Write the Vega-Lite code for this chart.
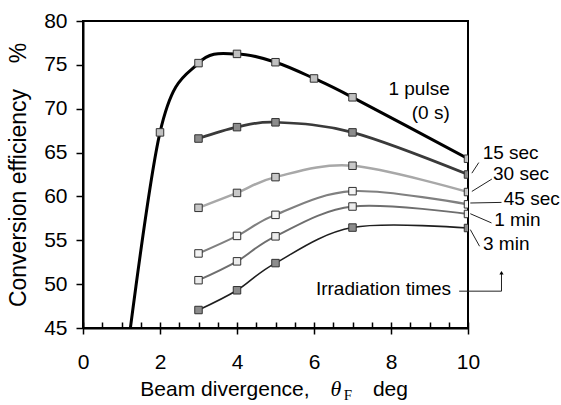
{
  "$schema": "https://vega.github.io/schema/vega-lite/v6.json",
  "width": 385,
  "height": 307,
  "autosize": {"type": "none"},
  "padding": {"left": 83, "top": 21, "right": 93, "bottom": 77},
  "background": "white",
  "config": {
    "view": {"stroke": "black", "strokeWidth": 2},
    "font": "Liberation Sans",
    "axis": {"domainColor": "black", "domainWidth": 2, "tickColor": "black", "tickWidth": 1.5, "labelColor": "black", "labelFont": "Liberation Sans", "labelFontSize": 21, "titleFont": "Liberation Sans", "titleFontWeight": "normal", "titleColor": "black", "labelOverlap": false, "labelFlush": false, "grid": false}
  },
  "resolve": {"axis": {"x": "independent"}},
  "datasets": {
    "series": [
      {"s": "1 pulse", "x": 1, "y": 37},
      {"s": "1 pulse", "x": 2, "y": 67.3},
      {"s": "1 pulse", "x": 3, "y": 75.2},
      {"s": "1 pulse", "x": 4, "y": 76.25},
      {"s": "1 pulse", "x": 5, "y": 75.3},
      {"s": "1 pulse", "x": 6, "y": 73.45},
      {"s": "1 pulse", "x": 7, "y": 71.3},
      {"s": "1 pulse", "x": 10, "y": 64.3},
      {"s": "15 sec", "x": 3, "y": 66.6},
      {"s": "15 sec", "x": 4, "y": 67.9},
      {"s": "15 sec", "x": 5, "y": 68.45},
      {"s": "15 sec", "x": 7, "y": 67.3},
      {"s": "15 sec", "x": 10, "y": 62.5},
      {"s": "30 sec", "x": 3, "y": 58.7},
      {"s": "30 sec", "x": 4, "y": 60.4},
      {"s": "30 sec", "x": 5, "y": 62.2},
      {"s": "30 sec", "x": 7, "y": 63.5},
      {"s": "30 sec", "x": 10, "y": 60.5},
      {"s": "45 sec", "x": 3, "y": 53.5},
      {"s": "45 sec", "x": 4, "y": 55.5},
      {"s": "45 sec", "x": 5, "y": 57.9},
      {"s": "45 sec", "x": 7, "y": 60.6},
      {"s": "45 sec", "x": 10, "y": 59.1},
      {"s": "1 min", "x": 3, "y": 50.45},
      {"s": "1 min", "x": 4, "y": 52.6},
      {"s": "1 min", "x": 5, "y": 55.45},
      {"s": "1 min", "x": 7, "y": 58.85},
      {"s": "1 min", "x": 10, "y": 58.0},
      {"s": "3 min", "x": 3, "y": 47.05},
      {"s": "3 min", "x": 4, "y": 49.3},
      {"s": "3 min", "x": 5, "y": 52.4},
      {"s": "3 min", "x": 7, "y": 56.45},
      {"s": "3 min", "x": 10, "y": 56.4}
    ],
    "labelsL": [
      {"t": "15 sec", "x": 10.38, "y": 65.0},
      {"t": "30 sec", "x": 10.65, "y": 62.58},
      {"t": "45 sec", "x": 10.93, "y": 59.7},
      {"t": "1 min", "x": 10.68, "y": 57.35},
      {"t": "3 min", "x": 10.39, "y": 54.6},
      {"t": "Irradiation times", "x": 6.05, "y": 49.5}
    ],
    "labelsR": [
      {"t": "1 pulse", "x": 9.525, "y": 72.24},
      {"t": "(0 s)", "x": 9.525, "y": 69.55}
    ],
    "leaders": [
      {"x": 10.28, "y": 63.86, "x2": 10.10, "y2": 62.65},
      {"x": 10.62, "y": 61.98, "x2": 10.10, "y2": 60.57},
      {"x": 10.06, "y": 59.25, "x2": 10.87, "y2": 59.32},
      {"x": 10.06, "y": 58.03, "x2": 10.61, "y2": 56.98},
      {"x": 10.06, "y": 56.22, "x2": 10.30, "y2": 54.32},
      {"x": 9.77, "y": 49.2, "x2": 10.87, "y2": 49.2},
      {"x": 10.87, "y": 49.2, "x2": 10.87, "y2": 51.2}
    ],
    "arrowhead": [{"x": 10.87, "y": 51.3}],
    "xtitle": [
      {"t": "Beam divergence,", "x": 1.49, "y": 37.27},
      {"t": "deg", "x": 7.53, "y": 37.27}
    ],
    "theta": [{"t": "θ", "x": 6.43, "y": 37.27}],
    "sub": [{"t": "F", "x": 6.77, "y": 36.82}]
  },
  "layer": [
    {
      "data": {"name": "series"},
      "mark": {"type": "line", "interpolate": "cardinal", "clip": true},
      "encoding": {
        "x": {"field": "x", "type": "quantitative", "title": null, "scale": {"domain": [0, 10], "nice": false, "zero": false},
          "axis": {"orient": "bottom", "values": [0, 2, 4, 6, 8, 10], "tickSize": 6, "labelPadding": 17}},
        "y": {"field": "y", "type": "quantitative", "title": "Conversion efficiency\u00a0\u00a0\u00a0\u00a0%", "scale": {"domain": [45, 80], "nice": false, "zero": false},
          "axis": {"titleFontSize": 23, "titlePadding": 13, "values": [45, 50, 55, 60, 65, 70, 75, 80], "tickSize": 7, "labelPadding": 9}},
        "detail": {"field": "s"},
        "stroke": {"field": "s", "type": "nominal", "legend": null,
          "scale": {"domain": ["1 pulse", "15 sec", "30 sec", "45 sec", "1 min", "3 min"], "range": ["#000000", "#3a3a3a", "#a8a8a8", "#808080", "#6e6e6e", "#1e1e1e"]}},
        "strokeWidth": {"field": "s", "type": "nominal", "legend": null,
          "scale": {"domain": ["1 pulse", "15 sec", "30 sec", "45 sec", "1 min", "3 min"], "range": [3, 1.6, 1.6, 1.6, 1.6, 1.6]}}
      }
    },
    {
      "data": {"name": "series"},
      "mark": {"type": "point", "shape": "square", "filled": true, "size": 56, "stroke": "#303030", "strokeWidth": 1, "opacity": 1, "clip": true},
      "encoding": {
        "x": {"field": "x", "type": "quantitative", "title": null,
          "axis": {"orient": "bottom", "values": [0, 0.5, 1, 1.5, 2, 2.5, 3, 3.5, 4, 4.5, 5, 5.5, 6, 6.5, 7, 7.5, 8, 8.5, 9, 9.5, 10], "tickSize": -6, "labels": false, "domain": false}},
        "y": {"field": "y", "type": "quantitative", "title": "Conversion efficiency\u00a0\u00a0\u00a0\u00a0%"},
        "fill": {"field": "s", "type": "nominal", "legend": null,
          "scale": {"domain": ["1 pulse", "15 sec", "30 sec", "45 sec", "1 min", "3 min"], "range": ["#c0c0c0", "#8c8c8c", "#c8c8c8", "#f4f4f4", "#ececec", "#8c8c8c"]}}
      }
    },
    {
      "data": {"name": "leaders"},
      "mark": {"type": "rule", "color": "#222222", "strokeWidth": 1},
      "encoding": {
        "x": {"field": "x", "type": "quantitative", "axis": null},
        "y": {"field": "y", "type": "quantitative", "title": "Conversion efficiency\u00a0\u00a0\u00a0\u00a0%"},
        "x2": {"field": "x2"},
        "y2": {"field": "y2"}
      }
    },
    {
      "data": {"name": "arrowhead"},
      "mark": {"type": "point", "shape": "triangle-up", "filled": true, "color": "black", "size": 18, "opacity": 1},
      "encoding": {
        "x": {"field": "x", "type": "quantitative", "axis": null},
        "y": {"field": "y", "type": "quantitative", "title": "Conversion efficiency\u00a0\u00a0\u00a0\u00a0%"}
      }
    },
    {
      "data": {"name": "labelsL"},
      "mark": {"type": "text", "align": "left", "baseline": "middle", "fontSize": 19, "font": "Liberation Sans", "color": "black"},
      "encoding": {
        "x": {"field": "x", "type": "quantitative", "axis": null},
        "y": {"field": "y", "type": "quantitative", "title": "Conversion efficiency\u00a0\u00a0\u00a0\u00a0%"},
        "text": {"field": "t"}
      }
    },
    {
      "data": {"name": "labelsR"},
      "mark": {"type": "text", "align": "right", "baseline": "middle", "fontSize": 19, "font": "Liberation Sans", "color": "black"},
      "encoding": {
        "x": {"field": "x", "type": "quantitative", "axis": null},
        "y": {"field": "y", "type": "quantitative", "title": "Conversion efficiency\u00a0\u00a0\u00a0\u00a0%"},
        "text": {"field": "t"}
      }
    },
    {
      "data": {"name": "xtitle"},
      "mark": {"type": "text", "align": "left", "baseline": "alphabetic", "fontSize": 21, "font": "Liberation Sans", "color": "black"},
      "encoding": {
        "x": {"field": "x", "type": "quantitative", "axis": null},
        "y": {"field": "y", "type": "quantitative", "title": "Conversion efficiency\u00a0\u00a0\u00a0\u00a0%"},
        "text": {"field": "t"}
      }
    },
    {
      "data": {"name": "theta"},
      "mark": {"type": "text", "align": "left", "baseline": "alphabetic", "fontSize": 22, "font": "Liberation Serif", "fontStyle": "italic", "color": "black"},
      "encoding": {
        "x": {"field": "x", "type": "quantitative", "axis": null},
        "y": {"field": "y", "type": "quantitative", "title": "Conversion efficiency\u00a0\u00a0\u00a0\u00a0%"},
        "text": {"field": "t"}
      }
    },
    {
      "data": {"name": "sub"},
      "mark": {"type": "text", "align": "left", "baseline": "alphabetic", "fontSize": 15, "font": "Liberation Serif", "color": "black"},
      "encoding": {
        "x": {"field": "x", "type": "quantitative", "axis": null},
        "y": {"field": "y", "type": "quantitative", "title": "Conversion efficiency\u00a0\u00a0\u00a0\u00a0%"},
        "text": {"field": "t"}
      }
    }
  ]
}
